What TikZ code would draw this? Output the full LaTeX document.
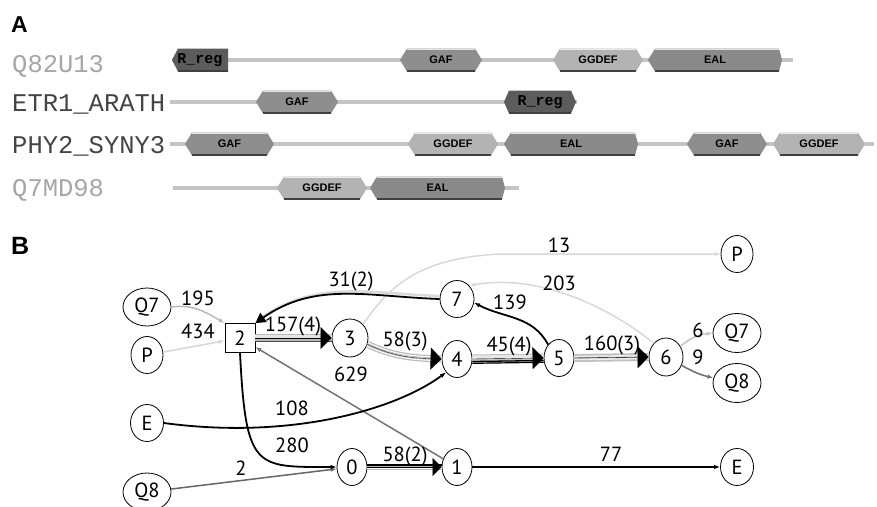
\documentclass[tikz,border=0pt]{standalone}
\usepackage{fontspec}
\setmainfont{PT Sans}
\newfontfamily\rowfont{Liberation Mono}
\newfontfamily\headfont{Liberation Sans}
\usetikzlibrary{arrows.meta,shapes.geometric}
\definecolor{cReg}{HTML}{5C5C5C}
\definecolor{cGAF}{HTML}{8E8E8E}
\definecolor{cGGDEF}{HTML}{B3B3B3}
\definecolor{cEAL}{HTML}{8A8A8A}
\definecolor{cBack}{HTML}{C4C4C4}
\definecolor{cLightTxt}{HTML}{A6A6A6}
\definecolor{cDarkTxt}{HTML}{444444}
% domain: x1 x2 y fill label name leftchamfer rightchamfer
\newcommand\dom[8]{%
  \fill[#4] (#1,-#3) -- (#1+#7,-#3+11.5) -- (#2-#8,-#3+11.5) -- (#2,-#3) -- (#2-#8,-#3-11.5) -- (#1+#7,-#3-11.5) -- cycle;
  \draw[white!75!#4, line width=1] (#1+#7,-#3+10.8) -- (#2-#8,-#3+10.8);
  \draw[black!75, line width=1.3] (#1+#7,-#3-10.9) -- (#2-#8,-#3-10.9);
  \node[domlbl] (#6) at ({(#1+#2)/2},-#3) {#5};
}
\tikzset{
  domlbl/.style={inner sep=0pt, font=\headfont\bfseries\fontsize{11}{11}\selectfont},
  reglbl/.style={inner sep=0pt, font=\rowfont\bfseries\fontsize{15}{15}\selectfont},
  rowlbl/.style={anchor=base west, inner sep=0pt, font=\rowfont\fontsize{25.5}{25.5}\selectfont},
  backbone/.style={cBack, line width=4.5},
  gn/.style={ellipse, draw, line width=0.8pt, inner sep=0pt, minimum width=30pt, minimum height=37pt, font=\fontsize{20.5}{20.5}\selectfont},
  lbl/.style={anchor=base, inner sep=0pt, font=\fontsize{20.5}{20.5}\selectfont},
  tip/.style={-{Latex[length=6pt,width=4.5pt]}},
  bigtip/.style={black, line width=0.4, -{Triangle[length=11pt,width=22pt]}},
  midtip/.style={black, line width=0.4, -{Triangle[length=9pt,width=18pt]}},
}
\begin{document}
\begin{tikzpicture}[x=1pt,y=1pt]
\useasboundingbox (0,0) rectangle (877,-506);
\fill[white] (0,0) rectangle (877,-506);

% ---------- Panel A ----------
\node[anchor=base west, inner sep=0pt, font=\headfont\bfseries\fontsize{23}{23}\selectfont] (A) at (11,-32) {A};
\node[rowlbl, text=cLightTxt] (r1) at (12,-72) {Q82U13};
\node[rowlbl, text=cDarkTxt] (r2) at (12,-111) {ETR1\_ARATH};
\node[rowlbl, text=cDarkTxt] (r3) at (12,-153) {PHY2\_SYNY3};
\node[rowlbl, text=cLightTxt] (r4) at (12,-196) {Q7MD98};

% row 1
\draw[backbone] (172,-60) -- (793,-60);
\fill[cReg] (172,-60) -- (178,-48.5) -- (228,-48.5) -- (228,-71.5) -- (178,-71.5) -- cycle;
\draw[black!75, line width=1.3] (178,-71) -- (228,-71);
\node[reglbl] (d1a) at (200,-60) {R\_reg};
\dom{400}{482}{60}{cGAF}{GAF}{d1b}{7}{7}
\dom{553}{643}{60}{cGGDEF}{GGDEF}{d1c}{7}{7}
\dom{648}{782}{60}{cEAL}{EAL}{d1d}{7}{3}
% row 2
\draw[backbone] (170,-102) -- (577,-102);
\dom{256}{338}{102}{cGAF}{GAF}{d2a}{7}{7}
\fill[cReg] (504,-102) -- (509,-90.5) -- (571,-90.5) -- (576,-102) -- (571,-113.5) -- (509,-113.5) -- cycle;
\draw[black!75, line width=1.3] (509,-113) -- (571,-113);
\node[reglbl] (d2b) at (540,-102) {R\_reg};
% row 3
\draw[backbone] (170,-144) -- (874,-144);
\dom{185}{274}{144}{cGAF}{GAF}{d3a}{7}{7}
\dom{408}{498}{144}{cGGDEF}{GGDEF}{d3b}{7}{7}
\dom{504}{638}{144}{cEAL}{EAL}{d3c}{7}{3}
\dom{687}{767}{144}{cGAF}{GAF}{d3d}{7}{7}
\dom{773}{865}{144}{cGGDEF}{GGDEF}{d3e}{7}{7}
% row 4
\draw[backbone] (173,-188) -- (519,-188);
\dom{277}{367}{188}{cGGDEF}{GGDEF}{d4a}{7}{7}
\dom{370}{505}{188}{cEAL}{EAL}{d4b}{7}{3}

% ---------- Panel B ----------
\node[anchor=base west, inner sep=0pt, font=\headfont\bfseries\fontsize{25}{25}\selectfont] (B) at (11,-254) {B};

\node[gn, minimum width=48pt, minimum height=38pt] (Q7L) at (147,-307) {Q7};
\node[gn, minimum width=32pt] (PL) at (147,-355) {P};
\node[draw, line width=0.8pt, minimum width=30pt, minimum height=29pt, inner sep=0pt, font=\fontsize{20.5}{20.5}\selectfont] (n2) at (240,-338) {2};
\node[gn, minimum width=36pt, minimum height=38pt] (n3) at (350,-338) {3};
\node[gn, minimum width=34pt] (n7) at (457,-299) {7};
\node[gn] (n4) at (457,-359) {4};
\node[gn] (n5) at (559,-358) {5};
\node[gn, minimum width=34pt, minimum height=38pt] (n6) at (666,-357) {6};
\node[gn, minimum width=32pt] (PR) at (737,-254) {P};
\node[gn, minimum width=48pt, minimum height=39pt] (Q7R) at (737,-333) {Q7};
\node[gn, minimum width=48pt, minimum height=39pt] (Q8R) at (737,-383) {Q8};
\node[gn, minimum width=33pt] (EL) at (147,-423) {E};
\node[gn, minimum width=48pt, minimum height=38pt] (Q8L) at (147,-492) {Q8};
\node[gn] (n0) at (352,-467) {0};
\node[gn] (n1) at (457,-467) {1};
\node[gn, minimum width=33pt] (ER) at (737,-467) {E};

% thin edges
\draw[gray!30, line width=1.5, tip] (n3.north east) .. controls (390,-285) and (420,-258) .. (500,-254) -- (PR.west);
\draw[gray!30, line width=1.5, tip] (n6.north west) .. controls (620,-315) and (545,-272) .. (n7.north east);
\draw[gray!55, line width=1.5, tip] (Q7L.east) to[out=8,in=150] (n2.north west);
\draw[gray!32, line width=1.5, tip] (PL) -- (n2);
\draw[black!55, line width=1.5, tip] (n1) -- (n2);
\draw[black!60, line width=1.5, tip] (Q8L) -- (n0);
\draw[black, line width=1.6, tip] (n1) -- (ER);
\draw[gray!45, line width=1.6, tip] (n6) to[bend left=18] (Q7R);
\draw[black!55, line width=1.6, tip] (n6) to[bend right=8] (Q8R);
\draw[black, line width=1.8, tip] (n5.north west) to[out=118,in=-28] (n7.-12);
\draw[black, line width=1.8, tip] (EL.east) .. controls (290,-440) and (395,-410) .. (n4.south west);
\draw[black, line width=1.8, tip] (n2.south) .. controls (246,-470) and (255,-467) .. (n0.west);

% 7 -> 2 (double)
\draw[gray!30, line width=2.5] ([yshift=3]n7.west) to[out=178,in=35] ([yshift=3,xshift=2]n2.north east);
\draw[black, line width=1.8, -{Triangle[length=10pt,width=11pt]}] (n7.west) to[out=178,in=35] (n2.north east);

% bundles
% 2 -> 3
\draw[gray!55, line width=8] (n2.east) -- (n3.west);
\draw[gray!20, line width=3] ([yshift=1.5]n2.east) -- ([yshift=1.5]n3.west);
\draw[black!70, line width=1] ([yshift=-3]n2.east) -- ([yshift=-3]n3.west);
\draw[bigtip] (n2.east) -- (n3.west);
% 3 -> 4
\draw[gray!55, line width=7] (n3.-20) to[out=-25,in=178] (n4.west);
\draw[white, line width=4.6] (n3.-20) to[out=-25,in=178] (n4.west);
\draw[gray!55, line width=2.4] (n3.-20) to[out=-25,in=178] (n4.west);
\draw[white, line width=0.7] (n3.-20) to[out=-25,in=178] (n4.west);
\draw[bigtip] (n3.-20) to[out=-25,in=178] (n4.west);
% 4 -> 5
\draw[gray!50, line width=9] (n4.east) -- (n5.west);
\draw[gray!18, line width=4] ([yshift=1.5]n4.east) -- ([yshift=1.5]n5.west);
\draw[black, line width=1.3] ([yshift=-2.5]n4.east) -- ([yshift=-2.5]n5.west);
\draw[black, line width=1.2] ([yshift=-4.3]n4.east) -- ([yshift=-4.3]n5.west);
\draw[bigtip] (n4.east) -- (n5.west);
% 5 -> 6
\draw[gray!50, line width=8] (n5.east) -- (n6.west);
\draw[gray!15, line width=4.5] (n5.east) -- (n6.west);
\draw[gray!60, line width=1.2] (n5.east) -- (n6.west);
\draw[bigtip] (n5.east) -- (n6.west);
% 0 -> 1
\draw[gray!55, line width=6] (n0.east) -- (n1.west);
\draw[white, line width=1.8] ([yshift=-1]n0.east) -- ([yshift=-1]n1.west);
\draw[black, line width=1.5] ([yshift=2]n0.east) -- ([yshift=2]n1.west);
\draw[midtip] (n0.east) -- (n1.west);

% edge labels
\node[lbl] (l195) at (198,-305) {195};
\node[lbl] (l434) at (198,-338) {434};
\node[lbl] (l157) at (293,-331) {157(4)};
\node[lbl] (l31) at (351,-286) {31(2)};
\node[lbl] (l58a) at (405,-346) {58(3)};
\node[lbl] (l629) at (351,-381) {629};
\node[lbl] (l13) at (559,-252) {13};
\node[lbl] (l203) at (559,-290) {203};
\node[lbl] (l139) at (510,-309) {139};
\node[lbl] (l45) at (509,-351) {45(4)};
\node[lbl] (l160) at (612,-350) {160(3)};
\node[lbl] (l6) at (698,-337) {6};
\node[lbl] (l9) at (698,-364) {9};
\node[lbl] (l108) at (292,-415) {108};
\node[lbl] (l280) at (292,-452) {280};
\node[lbl] (l2) at (241,-475) {2};
\node[lbl] (l58b) at (405,-461) {58(2)};
\node[lbl] (l77) at (611,-461) {77};
\end{tikzpicture}
\end{document}
